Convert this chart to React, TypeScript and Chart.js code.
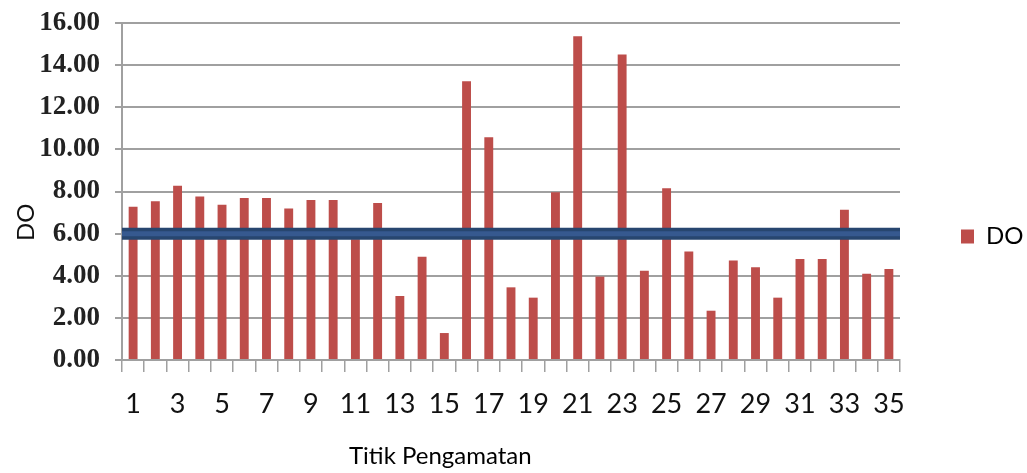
import React, { useEffect, useRef } from "react";
import { Chart, registerables } from "chart.js";

Chart.register(...registerables);

const categories: string[] = Array.from({ length: 35 }, (_, i) => String(i + 1));
const doValues: number[] = [
  7.28, 7.54, 8.27, 7.76, 7.37, 7.69, 7.69, 7.19, 7.6, 7.6,
  5.73, 7.45, 3.04, 4.9, 1.28, 13.23, 10.58, 3.45, 2.96, 7.97,
  15.37, 3.96, 14.5, 4.24, 8.16, 5.15, 2.34, 4.72, 4.4, 2.96,
  4.8, 4.8, 7.13, 4.09, 4.32,
];
const thresholdX: number[] = [0.5, 35.5];
const thresholdY: number[] = [6, 6];
const yTicks: number[] = [0, 2, 4, 6, 8, 10, 12, 14, 16];

export default function App() {
  const ref = useRef<HTMLCanvasElement | null>(null);

  useEffect(() => {
    if (!ref.current) return;
    const sans = "Lato, 'Open Sans', sans-serif";
    const serif = "'Liberation Serif', serif";
    const gridColor = "#a0a0a0";
    const thresholdData = thresholdX.map((x, i) => ({ x, y: thresholdY[i] }));
    const chart = new Chart(ref.current, {
      type: "bar",
      data: {
        labels: categories,
        datasets: [
          {
            type: "bar",
            label: "DO",
            data: doValues,
            backgroundColor: "#bd4d4a",
            borderWidth: 0,
            barPercentage: 0.8,
            categoryPercentage: 0.5,
            grouped: false,
            order: 3,
            xAxisID: "x",
          },
          {
            type: "line",
            label: "Baku mutu outer",
            data: thresholdData as any,
            borderColor: "#27466f",
            borderWidth: 12,
            borderCapStyle: "round",
            pointRadius: 0,
            fill: false,
            order: 2,
            xAxisID: "x2",
          },
          {
            type: "line",
            label: "Baku mutu inner",
            data: thresholdData as any,
            borderColor: "#36598f",
            borderWidth: 5,
            pointRadius: 0,
            fill: false,
            order: 1,
            xAxisID: "x2",
          },
        ] as any,
      },
      options: {
        animation: false,
        responsive: true,
        maintainAspectRatio: false,
        layout: { padding: { left: 0, top: 0, right: 0, bottom: 0 } },
        plugins: {
          tooltip: { enabled: false },
          legend: {
            position: "right",
            maxWidth: 127,
            labels: {
              filter: (item: any) => item.datasetIndex === 0,
              boxWidth: 13,
              boxHeight: 14,
              padding: 61,
              color: "#000",
              font: { family: sans, size: 24 },
            },
          },
        },
        scales: {
          x: {
            type: "category",
            offset: true,
            afterFit: (scale: any) => {
              scale.height = 113;
            },
            grid: {
              display: true,
              drawOnChartArea: false,
              drawTicks: true,
              tickLength: 12,
              color: gridColor,
              lineWidth: 1.5,
              offset: true,
            },
            border: { display: true, color: gridColor, width: 2 },
            ticks: {
              autoSkip: false,
              maxRotation: 0,
              padding: 16,
              color: "#111",
              font: { family: sans, size: 27 },
              callback: (_v: any, i: number) => (i % 2 === 0 ? categories[i] : ""),
            },
            title: {
              display: true,
              text: "Titik Pengamatan" + "\u00A0".repeat(23),
              color: "#000",
              font: { family: sans, size: 24 },
              padding: { top: 0, bottom: 2 },
            },
          },
          x2: {
            type: "linear",
            display: false,
            offset: false,
            min: thresholdX[0],
            max: thresholdX[1],
          },
          y: {
            min: yTicks[0],
            max: yTicks[yTicks.length - 1],
            afterBuildTicks: (scale: any) => {
              scale.ticks = yTicks.map((v) => ({ value: v }));
            },
            afterFit: (scale: any) => {
              scale.width = 122;
              scale.paddingTop = 23;
            },
            grid: {
              color: gridColor,
              lineWidth: 2,
              drawTicks: true,
              tickLength: 7,
            },
            border: { display: true, color: gridColor, width: 2 },
            ticks: {
              padding: 15,
              color: "#222",
              font: { family: serif, size: 27, weight: "bold" },
              callback: (v: any) => Number(v).toFixed(2),
            },
            title: {
              display: true,
              text: "DO" + "\u00A0".repeat(10),
              color: "#111",
              font: { family: sans, size: 24 },
              padding: { top: 12, bottom: 0 },
            },
          },
        },
      } as any,
    });
    return () => chart.destroy();
  }, []);

  return (
    <div
      style={{
        position: "fixed",
        left: 0,
        top: 0,
        width: 1027,
        height: 473,
        background: "#fff",
      }}
    >
      <canvas ref={ref} />
    </div>
  );
}
